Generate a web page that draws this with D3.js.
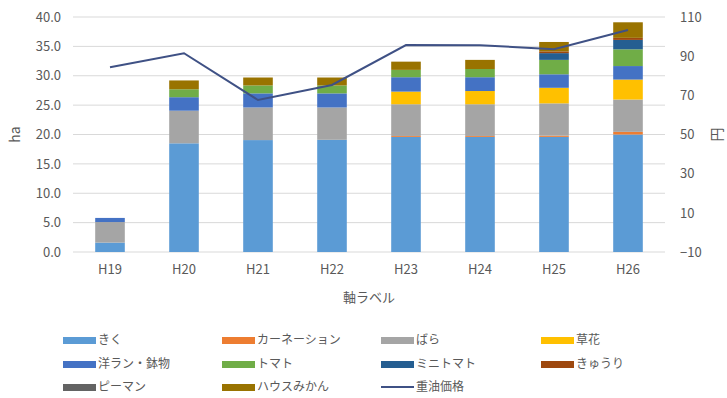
<!DOCTYPE html>
<html>
<head>
<meta charset="utf-8">
<script src="https://cdn.jsdelivr.net/npm/d3@7"></script>
<style>
  body { margin: 0; background: #fff; }
  text { font-family: "Noto Sans CJK JP", "Noto Sans", sans-serif; fill: #595959; }
</style>
</head>
<body>
<div id="chart"></div>
<script>
const years = ["H19", "H20", "H21", "H22", "H23", "H24", "H25", "H26"]

const seriesNames = ["きく", "カーネーション", "ばら", "草花", "洋ラン・鉢物", "トマト", "ミニトマト", "きゅうり", "ピーマン", "ハウスみかん"]
const seriesColors = ["#5b9bd5", "#ed7d31", "#a5a5a5", "#ffc000", "#4472c4", "#70ad47", "#255e91", "#9e480e", "#636363", "#997300"]

const kiku      = [1.6, 18.5, 19.05, 19.1, 19.6, 19.6, 19.6, 20.0]
const carnation = [0, 0, 0, 0, 0.15, 0.15, 0.2, 0.45]
const bara      = [3.5, 5.55, 5.55, 5.5, 5.4, 5.4, 5.5, 5.5]
const souka     = [0, 0, 0, 0, 2.15, 2.25, 2.65, 3.4]
const yoran     = [0.7, 2.3, 2.4, 2.4, 2.45, 2.35, 2.3, 2.3]
const tomato    = [0, 1.35, 1.35, 1.35, 1.25, 1.4, 2.45, 2.85]
const minitomato = [0, 0, 0, 0, 0, 0, 1.15, 1.6]
const kyuri     = [0, 0, 0, 0, 0, 0, 0.3, 0.35]
const piman     = [0, 0, 0, 0, 0, 0, 0, 0]
const mikan     = [0, 1.5, 1.35, 1.35, 1.4, 1.55, 1.6, 2.65]

const oilPrice = [84.3, 91.5, 67.6, 75.3, 95.7, 95.6, 93.5, 103.4]

const leftTicks = [0, 5, 10, 15, 20, 25, 30, 35, 40]
const rightTicks = [-10, 10, 30, 50, 70, 90, 110]

const seriesValues = [kiku, carnation, bara, souka, yoran, tomato, minitomato, kyuri, piman, mikan]

const table = years.map((y, i) => {
    const row = { year: y }
    seriesNames.forEach((n, k) => { row[n] = seriesValues[k][i] })
    return row
})

const width = 727
const height = 398
const plot = { left: 73, right: 665, top: 17, bottom: 252 }

const svg = d3.select("#chart")
    .append("svg")
    .attr("width", width)
    .attr("height", height)

const x = d3.scaleBand()
    .domain(years)
    .range([plot.left, plot.right])
    .paddingInner(0.6)
    .paddingOuter(0.3)

const y = d3.scaleLinear()
    .domain([0, 40])
    .range([plot.bottom, plot.top])

const y2 = d3.scaleLinear()
    .domain([-10, 110])
    .range([plot.bottom, plot.top])

// gridlines
svg.append("g")
    .selectAll("line")
    .data(leftTicks)
    .enter()
    .append("line")
    .attr("x1", plot.left)
    .attr("x2", plot.right)
    .attr("y1", d => y(d))
    .attr("y2", d => y(d))
    .attr("stroke", "#d9d9d9")
    .attr("stroke-width", 1)

// left axis
const leftAxis = svg.append("g")
    .attr("transform", `translate(${plot.left - 12},0)`)
    .call(d3.axisLeft(y).tickValues(leftTicks).tickFormat(d3.format(".1f")).tickSize(0).tickPadding(0))
leftAxis.select(".domain").remove()
leftAxis.selectAll("text").style("font-size", "13px")

// right axis
const rightAxis = svg.append("g")
    .attr("transform", `translate(${plot.right + 15},0)`)
    .call(d3.axisRight(y2).tickValues(rightTicks).tickSize(0).tickPadding(0))
rightAxis.select(".domain").remove()
rightAxis.selectAll("text").style("font-size", "13px")

// stacked bars
const stack = d3.stack().keys(seriesNames)(table)

svg.append("g")
    .selectAll("g")
    .data(stack)
    .enter()
    .append("g")
    .attr("fill", (d, i) => seriesColors[i])
    .selectAll("rect")
    .data(d => d)
    .enter()
    .append("rect")
    .attr("x", d => x(d.data.year))
    .attr("y", d => y(d[1]))
    .attr("width", x.bandwidth())
    .attr("height", d => y(d[0]) - y(d[1]))

// oil price line
const line = d3.line()
    .x((d, i) => x(years[i]) + x.bandwidth() / 2)
    .y(d => y2(d))

svg.append("path")
    .datum(oilPrice)
    .attr("d", line)
    .attr("fill", "none")
    .attr("stroke", "#3f5185")
    .attr("stroke-width", 2)

// x axis labels
const bottomAxis = svg.append("g")
    .attr("transform", `translate(0,${plot.bottom + 13})`)
    .call(d3.axisBottom(x).tickSize(0).tickPadding(0))
bottomAxis.select(".domain").remove()
bottomAxis.selectAll("text").style("font-size", "13px")

svg.append("text")
    .attr("x", (plot.left + plot.right) / 2)
    .attr("y", 302)
    .attr("text-anchor", "middle")
    .style("font-size", "13px")
    .text("軸ラベル")

svg.append("text")
    .attr("transform", `translate(20,${(plot.top + plot.bottom) / 2}) rotate(-90)`)
    .attr("text-anchor", "middle")
    .style("font-size", "14px")
    .text("ha")

svg.append("text")
    .attr("transform", `translate(722,${(plot.top + plot.bottom) / 2}) rotate(-90)`)
    .attr("text-anchor", "middle")
    .style("font-size", "14px")
    .text("円")

// legend
const legendItems = seriesNames.map((n, i) => ({ name: n, color: seriesColors[i], type: "rect" }))
legendItems.push({ name: "重油価格", color: "#3f5185", type: "line" })

const colX = [63, 222, 381, 541]
const rowY = [340, 364, 387]

const legend = svg.append("g")
    .selectAll("g")
    .data(legendItems)
    .enter()
    .append("g")
    .attr("transform", (d, i) => `translate(${colX[i % 4]},${rowY[Math.floor(i / 4)]})`)

legend.filter(d => d.type === "rect")
    .append("rect")
    .attr("x", 0)
    .attr("y", -3)
    .attr("width", 33)
    .attr("height", 7)
    .attr("fill", d => d.color)

legend.filter(d => d.type === "line")
    .append("line")
    .attr("x1", 0)
    .attr("x2", 33)
    .attr("y1", 0)
    .attr("y2", 0)
    .attr("stroke", d => d.color)
    .attr("stroke-width", 2)

legend.append("text")
    .attr("x", 35)
    .attr("y", 0)
    .attr("dy", "0.35em")
    .style("font-size", "12px")
    .text(d => d.name)
</script>
</body>
</html>
